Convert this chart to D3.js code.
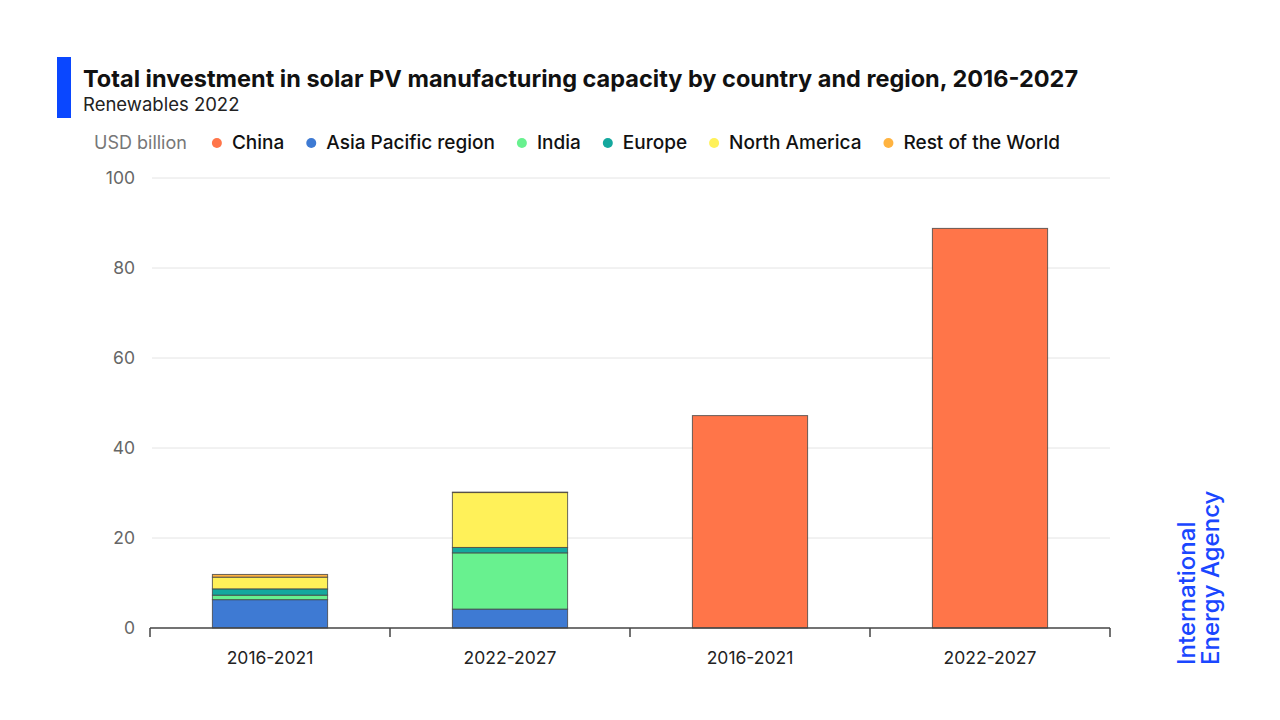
<!DOCTYPE html>
<html>
<head>
<meta charset="utf-8">
<script src="https://cdn.jsdelivr.net/npm/d3@7"></script>
<style>
  body { margin: 0; background: #fff; }
  svg { font-family: Inter, "Noto Sans", sans-serif; }
</style>
</head>
<body>
<svg width="1280" height="720"></svg>
<script>
// Data (USD billion)
const periods = ["2016-2021", "2022-2027", "2016-2021 ", "2022-2027 "];
const seriesNames = ["Asia Pacific region", "India", "Europe", "North America", "Rest of the World", "China"];
const asiaPacific = [6.3, 4.2, 0, 0];
const india = [1.0, 12.5, 0, 0];
const europe = [1.4, 1.2, 0, 0];
const northAmerica = [2.6, 12.2, 0, 0];
const restOfWorld = [0.6, 0.1, 0, 0];
const china = [0, 0, 47.2, 88.8];
const yTicks = [0, 20, 40, 60, 80, 100];

// legend order differs from stack order
const legendOrder = ["China", "Asia Pacific region", "India", "Europe", "North America", "Rest of the World"];
const colors = {
    "China": "#ff7549",
    "Asia Pacific region": "#3e7ad3",
    "India": "#68f18f",
    "Europe": "#14a89e",
    "North America": "#fff159",
    "Rest of the World": "#ffb340"
};

const table = periods.map((p, i) => ({
    period: p,
    "Asia Pacific region": asiaPacific[i],
    "India": india[i],
    "Europe": europe[i],
    "North America": northAmerica[i],
    "Rest of the World": restOfWorld[i],
    "China": china[i]
}));

const margin = { top: 178, right: 170, bottom: 92, left: 150 },
    width = 1280 - margin.left - margin.right,
    height = 720 - margin.top - margin.bottom;

const svg = d3.select("svg");

// Title block
svg.append("rect").attr("x", 57).attr("y", 57).attr("width", 14).attr("height", 61).attr("fill", "#0a47ff");
svg.append("text").attr("x", 83).attr("y", 87)
    .style("font-size", "23.5px").style("font-weight", 700).attr("fill", "#111")
    .text("Total investment in solar PV manufacturing capacity by country and region, 2016-2027");
svg.append("text").attr("x", 83).attr("y", 111)
    .style("font-size", "18.5px").attr("fill", "#222")
    .text("Renewables 2022");

// Legend
const legend = svg.append("g").attr("transform", "translate(94,149)");
const unit = legend.append("text").attr("x", 0).attr("y", 0)
    .style("font-size", "18px").attr("fill", "#777").text("USD billion");
let lx = unit.node().getComputedTextLength() + 30;
legendOrder.forEach(name => {
    legend.append("circle").attr("cx", lx).attr("cy", -6).attr("r", 5).attr("fill", colors[name]);
    const t = legend.append("text").attr("x", lx + 15).attr("y", 0)
        .style("font-size", "19px").style("font-weight", 500).attr("fill", "#111").text(name);
    lx += 15 + t.node().getComputedTextLength() + 27;
});

const g = svg.append("g").attr("transform", "translate(" + margin.left + "," + margin.top + ")");

const x = d3.scaleBand().domain(periods).range([0, width]).paddingInner(0.52).paddingOuter(0.26);
const y = d3.scaleLinear().domain([0, 100]).range([height, 0]);

// Gridlines
g.append("g")
    .selectAll("line")
    .data(yTicks.filter(d => d > 0))
    .join("line")
    .attr("x1", 2).attr("x2", width)
    .attr("y1", d => y(d)).attr("y2", d => y(d))
    .attr("stroke", "#e4e4e4").attr("stroke-width", 1);

// Y axis labels
const yAxis = g.append("g")
    .call(d3.axisLeft(y).tickValues(yTicks).tickSize(0).tickPadding(15));
yAxis.select(".domain").remove();
yAxis.selectAll("text").style("font-size", "17.5px").style("font-family", "Inter, sans-serif").attr("fill", "#666");

// Stacked bars
const stack = d3.stack().keys(seriesNames);
const layers = stack(table);
g.append("g")
    .selectAll("g")
    .data(layers)
    .join("g")
    .attr("fill", d => colors[d.key])
    .selectAll("rect")
    .data(d => d.filter(v => v[1] - v[0] > 0))
    .join("rect")
    .attr("x", d => x(d.data.period))
    .attr("width", x.bandwidth())
    .attr("y", d => y(d[1]))
    .attr("height", d => y(d[0]) - y(d[1]))
    .attr("stroke", "#444")
    .attr("stroke-opacity", 0.8)
    .attr("stroke-width", 1);

// X axis with ticks at band boundaries
const xAxis = g.append("g").attr("transform", "translate(0," + height + ")");
xAxis.append("line").attr("x1", 0).attr("x2", width).attr("stroke", "#444").attr("stroke-width", 1.5);
const step = x.step();
const bounds = d3.range(periods.length + 1).map(i => i * step);
xAxis.selectAll("line.tick")
    .data(bounds)
    .join("line")
    .attr("class", "tick")
    .attr("x1", d => d).attr("x2", d => d)
    .attr("y1", 0).attr("y2", 9)
    .attr("stroke", "#444").attr("stroke-width", 1.5);
xAxis.selectAll("text")
    .data(periods)
    .join("text")
    .attr("x", d => x(d) + x.bandwidth() / 2)
    .attr("y", 36)
    .attr("text-anchor", "middle")
    .style("font-size", "17.5px")
    .attr("fill", "#222")
    .text(d => d.trim());

// Logo
const logo = svg.append("g").attr("transform", "translate(1195,665) rotate(-90)");
logo.append("text").attr("x", 0).attr("y", 0)
    .style("font-size", "24px").style("font-weight", 500).attr("fill", "#1a47ff").text("International");
logo.append("text").attr("x", 0).attr("y", 24)
    .style("font-size", "24px").style("font-weight", 500).attr("fill", "#1a47ff").text("Energy Agency");
</script>
</body>
</html>
